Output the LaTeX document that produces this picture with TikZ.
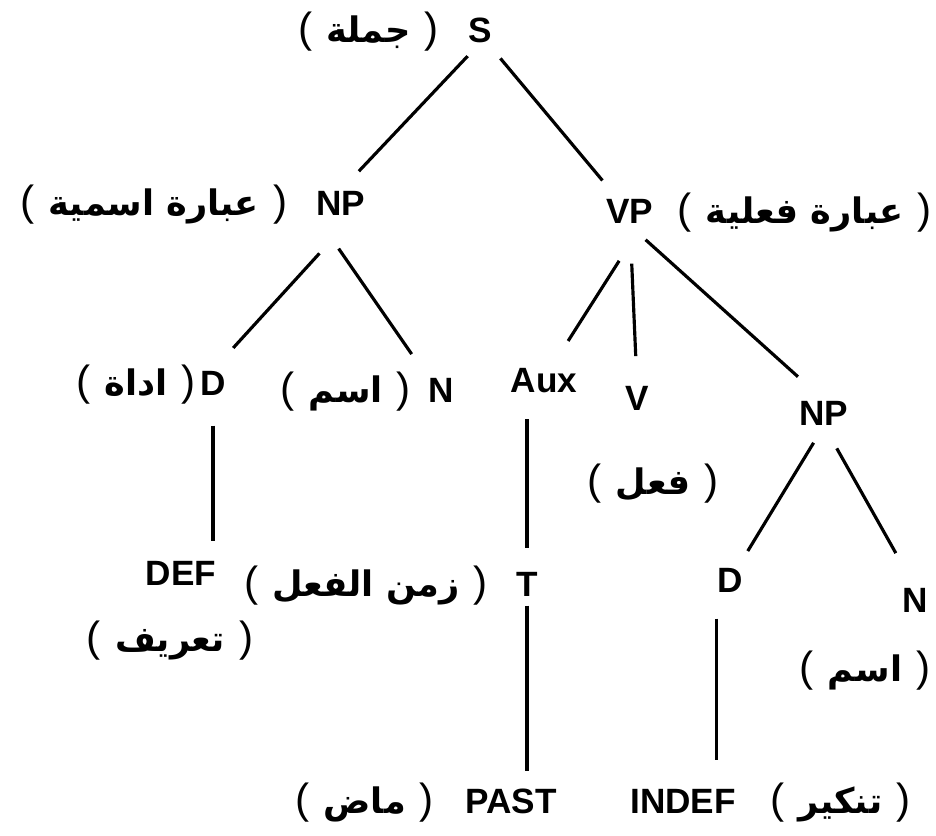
\documentclass[tikz,border=0pt]{standalone}
\usepackage{fontspec}
\setmainfont{Liberation Sans}
\newfontfamily\arabicfont[Script=Arabic]{DejaVu Sans}
\TeXXeTstate=1
\usetikzlibrary{positioning}
\def\paren#1{{\fontsize{12}{12}\selectfont\mdseries#1}}
\def\arlabel#1{\paren{(}\hspace{4pt}{\arabicfont\bfseries\fontsize{10}{12}\selectfont\beginR #1\endR}\hspace{4pt}\paren{)}}

\begin{document}
\begin{tikzpicture}[x=0.1mm,y=-0.1mm,
	cat/.style={font=\fontsize{10}{12}\selectfont\bfseries,inner sep=0pt,anchor=base},
	gloss/.style={inner sep=0pt},
	branch/.style={line width=0.9pt}]
			\useasboundingbox[fill=white] (0,0) rectangle (936,836);
			% categories
			\node[cat] (S) at (480,42) {S};
			\node[cat] (NPa) at (341,215) {NP};
			\node[cat] (VP) at (630,223) {VP};
			\node[cat] (Da) at (213,395) {D};
			\node[cat] (Na) at (441,402) {N};
			\node[cat] (Aux) at (544,392) {Aux};
			\node[cat] (V) at (637,410) {V};
			\node[cat] (NPb) at (824,425) {NP};
			\node[cat] (DEF) at (181,585) {DEF};
			\node[cat] (T) at (527,596) {T};
			\node[cat] (Db) at (730,593) {D};
			\node[cat] (Nb) at (915,612) {N};
			\node[cat] (PAST) at (511,813) {PAST};
			\node[cat] (INDEF) at (683,813) {INDEF};
			% glosses
			\node[gloss,base left=2.8mm of S] (Sgl) {\arlabel{جملة}};
			\node[gloss,base left=2.8mm of NPa] (NPagl) {\arlabel{عبارة اسمية}};
			\node[gloss,base right=2.3mm of VP] (VPgl) {\arlabel{عبارة فعلية}};
			\node[gloss,base left=0.3mm of Da] (Dagl) {\arlabel{اداة}};
			\node[gloss,base left=1.6mm of Na] (Nagl) {\arlabel{اسم}};
			\node[gloss,anchor=base] (Vgl) at (653,494) {\arlabel{فعل}};
			\node[gloss,base left=2.7mm of T] (Tgl) {\arlabel{زمن الفعل}};
			\node[gloss,anchor=base] (DEFgl) at (170,651) {\arlabel{تعريف}};
			\node[gloss,anchor=base] (Nbgl) at (865,681) {\arlabel{اسم}};
			\node[gloss,base left=3mm of PAST] (PASTgl) {\arlabel{ماض}};
			\node[gloss,base right=3.3mm of INDEF] (INDEFgl) {\arlabel{تنكير}};
			% branches
			\draw[branch,shorten <=1.8mm,shorten >=2.6mm] (S.south) -- (NPa.north);
			\draw[branch,shorten <=2mm,shorten >=2.3mm] (S.-60) -- (VP.135);
			\draw[branch,shorten <=5.1mm,shorten >=3mm] (NPa.-45) -- (Da.north);
			\draw[branch,shorten <=4mm,shorten >=2.8mm] (NPa.south west) -- (Na.north west);
			\draw[branch,shorten <=4.4mm,shorten >=3.1mm] (VP.-45) -- (Aux.60);
			\draw[branch,shorten <=4mm,shorten >=2.9mm] (VP.south) -- (V.north);
			\draw[branch,shorten <=2.4mm,shorten >=3.5mm] (VP.-100) -- (NPb.north);
			\draw[branch,shorten <=3mm,shorten >=1.9mm] (Da.south) -- (Da.south |- DEF.north);
			\draw[branch,shorten <=2.6mm,shorten >=2.3mm] (T.north |- Aux.south) -- (T.north);
			\draw[branch,shorten <=2mm,shorten >=2mm] (NPb.south) -- (Db.60);
			\draw[branch,shorten <=2.6mm,shorten >=3.9mm] (NPb.south) -- (Nb.north);
			\draw[branch,shorten <=0.9mm,shorten >=1.7mm] (T.south) -- (T.south |- PAST.north);
			\draw[branch,shorten <=2.5mm,shorten >=2.8mm] (Db.south west) -- (Db.south west |- INDEF.north);
		\end{tikzpicture}
\end{document}
